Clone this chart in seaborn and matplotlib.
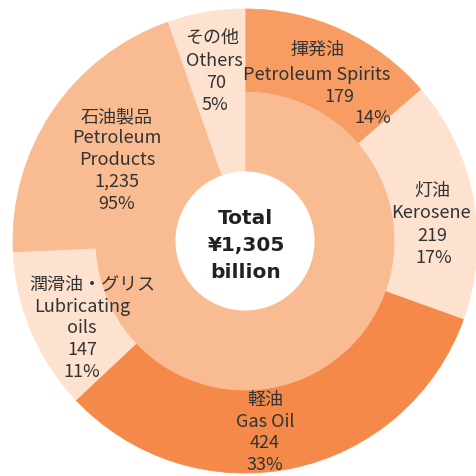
import matplotlib
matplotlib.use("Agg")
import matplotlib.pyplot as plt
import seaborn as sns

# ---- data ----
products = ["揮発油", "灯油", "軽油", "潤滑油・グリス", "その他石油製品", "その他"]
products_en = ["Petroleum Spirits", "Kerosene", "Gas Oil", "Lubricating\noils", "", "Others"]
product_values = [179, 219, 424, 147, 266, 70]
product_pcts = ["14%", "17%", "33%", "11%", "", "5%"]
groups = ["石油製品", "その他"]
groups_en = ["Petroleum\nProducts", "Others"]
group_values = [1235, 70]
group_pcts = ["95%", "5%"]
total_label = ["Total", "¥1,305", "billion"]

# ---- style ----
sns.set_theme(style="white")
plt.rcParams["font.family"] = ["Noto Sans CJK JP", "DejaVu Sans"]

c_spirits = "#F79C62"
c_gasoil = "#F4894A"
c_light = "#F9BB92"
c_pale = "#FDE2D0"
outer_colors = sns.color_palette([c_spirits, c_pale, c_gasoil, c_pale, c_light, c_pale])
inner_colors = sns.color_palette([c_light, c_pale])
text_color = "#333333"

W = H = 477
CX, CY, R = 245, 242, 232
fig = plt.figure(figsize=(W / 100, H / 100), dpi=100)
ax = fig.add_axes([0, 0, 1, 1])
ax.set_xlim(-CX / R, (W - CX) / R)
ax.set_ylim(-(H - CY) / R, CY / R)
ax.set_aspect("equal")
ax.axis("off")

r_hole = 70 / R
r_mid = 149 / R

w_out, _ = ax.pie(product_values, colors=outer_colors, radius=1.0, startangle=90,
                  counterclock=False, wedgeprops=dict(width=1.0 - r_mid, linewidth=0))
w_in, _ = ax.pie(group_values, colors=inner_colors, radius=r_mid, startangle=90,
                 counterclock=False, wedgeprops=dict(width=r_mid - r_hole, linewidth=0))
for w in list(w_out) + list(w_in):
    w.set_edgecolor(w.get_facecolor())
    w.set_linewidth(0.6)
ax.set_xlim(-CX / R, (W - CX) / R)
ax.set_ylim(-(H - CY) / R, CY / R)


def px(x, y):
    return (x - CX) / R, (CY - y) / R


fs = 13
def put(x, y, s, fontsize=fs, color=text_color, **kw):
    dx, dy = px(x, y)
    ax.text(dx, dy, s, ha="center", va="center", fontsize=fontsize,
            color=color, **kw)


# label layout (pixel positions of each text line)
# Petroleum Spirits
put(318, 50, products[0])
put(317, 75, products_en[0])
put(339, 97, f"{product_values[0]}")
put(373, 118, product_pcts[0])
# Kerosene
put(432, 191, products[1])
put(431, 213, products_en[1])
put(432, 236, f"{product_values[1]}")
put(434, 258, product_pcts[1])
# Gas oil
put(265, 400, products[2])
put(265, 422, products_en[2])
put(265, 443, f"{product_values[2]}")
put(265, 465, product_pcts[2])
# Lubricating oils
en_lines = products_en[3].split("\n")
put(92, 285, products[3])
put(82, 307, en_lines[0])
put(82, 328, en_lines[1])
put(82, 350, f"{product_values[3]}")
put(82, 372, product_pcts[3])
# Petroleum products group
g_lines = groups_en[0].split("\n")
put(117, 117, groups[0])
put(117, 138, g_lines[0])
put(117, 160, g_lines[1])
put(117, 182, f"{group_values[0]:,}")
put(117, 204, group_pcts[0])
# Others
put(212, 38, groups[1])
put(214, 61, groups_en[1])
put(216, 83, f"{group_values[1]}")
put(215, 105, group_pcts[1])
# Total
for yy, s in zip([218, 246, 273], total_label):
    put(246, yy, s, fontweight="bold", fontsize=14.5, color="#222222",
        family=["DejaVu Sans"])

fig.savefig("out.png", dpi=100, facecolor="white")
